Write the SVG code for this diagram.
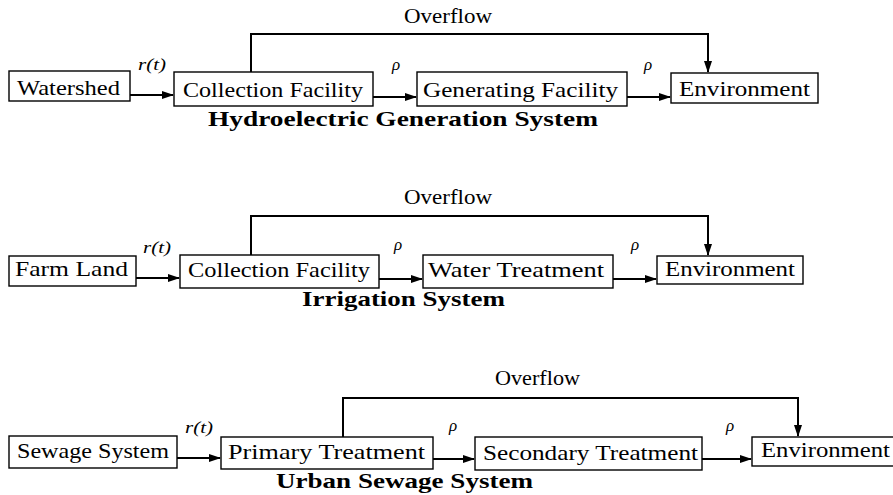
<svg xmlns="http://www.w3.org/2000/svg" width="893" height="495" viewBox="0 0 893 495">
<style>
.box{fill:#fff;stroke:#000;stroke-width:1.4}
.t{font-family:"Liberation Serif","Times New Roman",serif;font-size:21px;fill:#000}
.b{font-family:"Liberation Serif","Times New Roman",serif;font-size:21px;font-weight:bold;fill:#000}
.m{font-family:"Liberation Serif","Times New Roman",serif;font-size:17px;font-style:italic;fill:#000}
.c{fill:none;stroke:#000;stroke-width:2}
</style>
<defs>
<marker id="ah" markerUnits="userSpaceOnUse" markerWidth="12" markerHeight="8" refX="11" refY="4" orient="auto">
<path d="M0,0 L12,4 L0,8 z" fill="#000"/>
</marker>
</defs>
<rect width="893" height="495" fill="#fff"/>
<g id="connectors">
<path class="c" d="M130,95 H173" marker-end="url(#ah)"/>
<path class="c" d="M373,97 H416" marker-end="url(#ah)"/>
<path class="c" d="M627,97 H670" marker-end="url(#ah)"/>
<path class="c" d="M251,72 V34 H708 V72" marker-end="url(#ah)"/>
<path class="c" d="M136,278 H179" marker-end="url(#ah)"/>
<path class="c" d="M379,279 H422" marker-end="url(#ah)"/>
<path class="c" d="M613,279 H656" marker-end="url(#ah)"/>
<path class="c" d="M251,255 V216 H708 V255" marker-end="url(#ah)"/>
<path class="c" d="M177,458 H220" marker-end="url(#ah)"/>
<path class="c" d="M433,459 H474" marker-end="url(#ah)"/>
<path class="c" d="M702,459 H751" marker-end="url(#ah)"/>
<path class="c" d="M343,437 V398 H798 V436" marker-end="url(#ah)"/>
</g>
<g id="labels">
<text class="t" x="404" y="23" textLength="88" lengthAdjust="spacingAndGlyphs">Overflow</text>
<text class="m" x="138" y="70" textLength="28" lengthAdjust="spacingAndGlyphs">r(t)</text>
<text class="m" x="392" y="70">ρ</text>
<text class="m" x="644" y="70">ρ</text>
<text class="b" x="208" y="126" textLength="390" lengthAdjust="spacingAndGlyphs">Hydroelectric Generation System</text>
<text class="t" x="404" y="204" textLength="88" lengthAdjust="spacingAndGlyphs">Overflow</text>
<text class="m" x="143" y="253" textLength="28" lengthAdjust="spacingAndGlyphs">r(t)</text>
<text class="m" x="394" y="250">ρ</text>
<text class="m" x="631" y="250">ρ</text>
<text class="b" x="302" y="306" textLength="203" lengthAdjust="spacingAndGlyphs">Irrigation System</text>
<text class="t" x="495" y="385" textLength="85" lengthAdjust="spacingAndGlyphs">Overflow</text>
<text class="m" x="185" y="433" textLength="28" lengthAdjust="spacingAndGlyphs">r(t)</text>
<text class="m" x="449" y="431">ρ</text>
<text class="m" x="726" y="431">ρ</text>
<text class="b" x="276" y="488" textLength="257" lengthAdjust="spacingAndGlyphs">Urban Sewage System</text>
</g>
<g id="watershed"><rect class="box" x="9" y="71" width="121" height="30"/><text class="t" x="17" y="95" textLength="103" lengthAdjust="spacingAndGlyphs">Watershed</text></g>
<g id="collection1"><rect class="box" x="174" y="72" width="199" height="34"/><text class="t" x="183" y="97" textLength="180" lengthAdjust="spacingAndGlyphs">Collection Facility</text></g>
<g id="generating"><rect class="box" x="417" y="72" width="210" height="34"/><text class="t" x="423" y="97" textLength="195" lengthAdjust="spacingAndGlyphs">Generating Facility</text></g>
<g id="environment1"><rect class="box" x="671" y="73" width="147" height="30"/><text class="t" x="679" y="96" textLength="131" lengthAdjust="spacingAndGlyphs">Environment</text></g>
<g id="farmland"><rect class="box" x="9" y="256" width="127" height="30"/><text class="t" x="15" y="276" textLength="113" lengthAdjust="spacingAndGlyphs">Farm Land</text></g>
<g id="collection2"><rect class="box" x="180" y="255" width="199" height="33"/><text class="t" x="188" y="277" textLength="182" lengthAdjust="spacingAndGlyphs">Collection Facility</text></g>
<g id="watertreatment"><rect class="box" x="423" y="255" width="190" height="33"/><text class="t" x="428" y="277" textLength="176" lengthAdjust="spacingAndGlyphs">Water Treatment</text></g>
<g id="environment2"><rect class="box" x="657" y="256" width="146" height="28"/><text class="t" x="665" y="276" textLength="130" lengthAdjust="spacingAndGlyphs">Environment</text></g>
<g id="sewage"><rect class="box" x="9" y="436" width="168" height="32"/><text class="t" x="17" y="458" textLength="152" lengthAdjust="spacingAndGlyphs">Sewage System</text></g>
<g id="primary"><rect class="box" x="221" y="437" width="212" height="32"/><text class="t" x="228" y="459" textLength="197" lengthAdjust="spacingAndGlyphs">Primary Treatment</text></g>
<g id="secondary"><rect class="box" x="475" y="437" width="227" height="33"/><text class="t" x="483" y="460" textLength="215" lengthAdjust="spacingAndGlyphs">Secondary Treatment</text></g>
<g id="environment3"><rect class="box" x="752" y="437" width="150" height="29"/><text class="t" x="761" y="457" textLength="129" lengthAdjust="spacingAndGlyphs">Environment</text></g>
</svg>
